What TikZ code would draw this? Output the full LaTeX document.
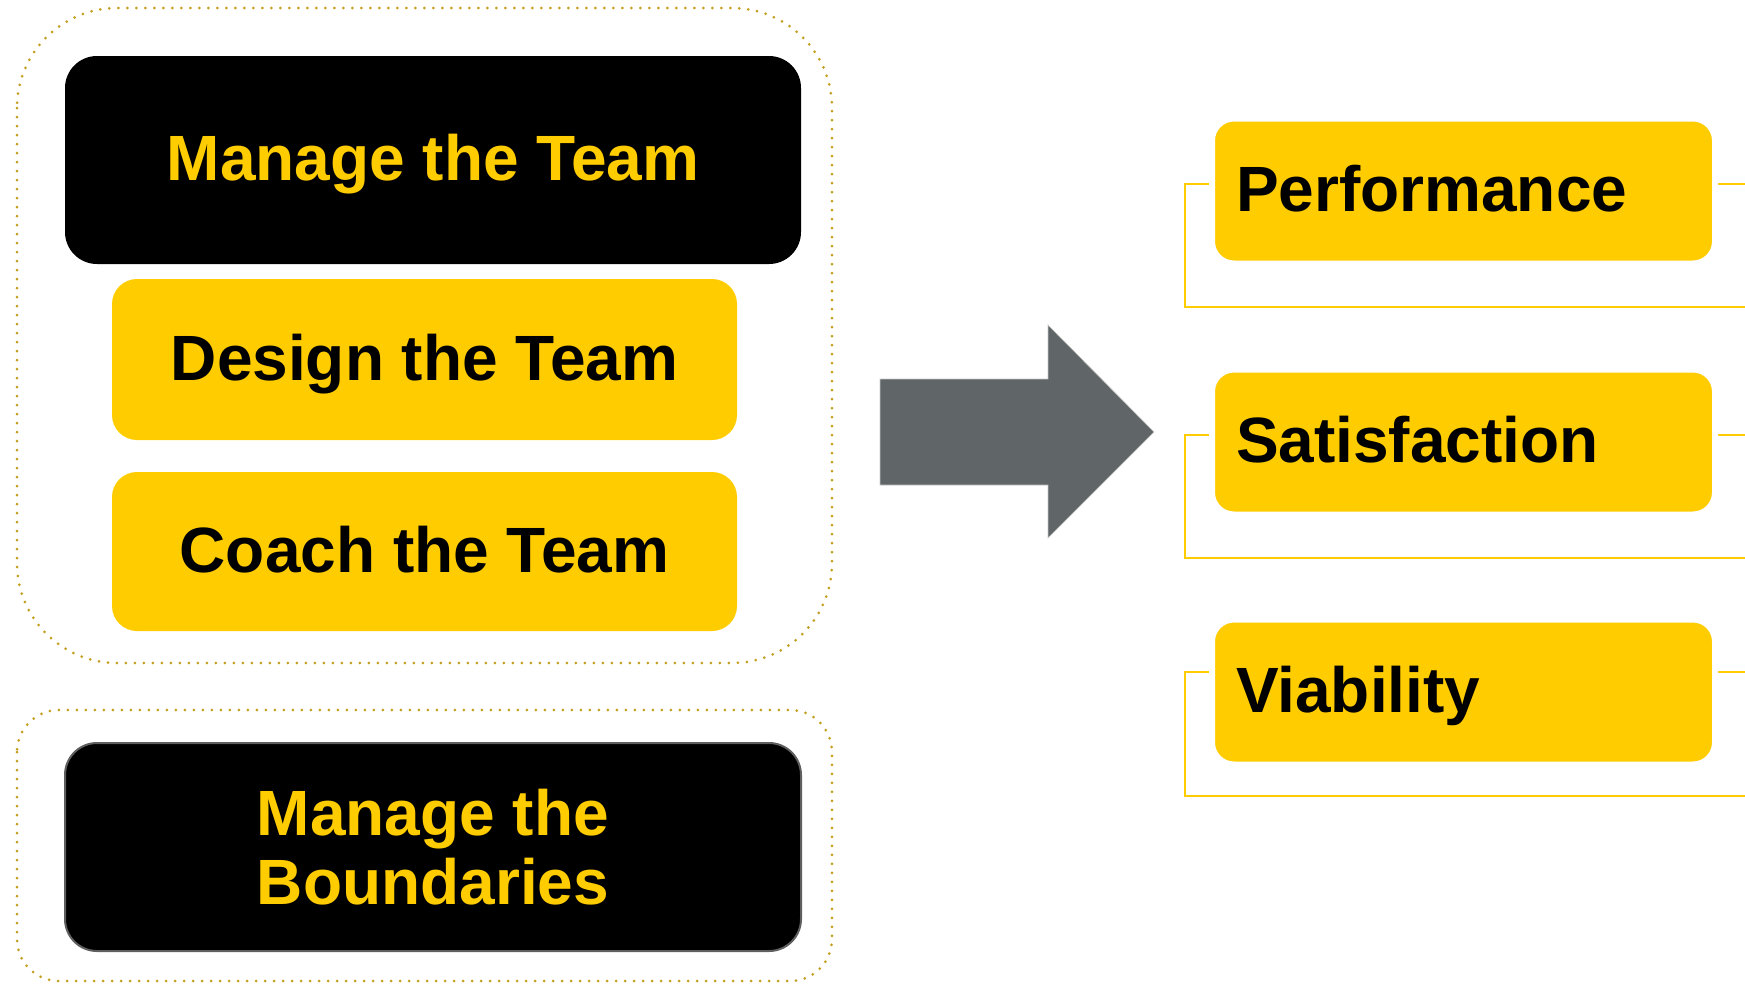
\documentclass[tikz,border=0pt]{standalone}
\usepackage{fontspec}
\setmainfont{Liberation Sans}
\definecolor{teamyellow}{RGB}{255,204,0}
\definecolor{dotgold}{RGB}{196,158,30}
\definecolor{arrowgrey}{RGB}{96,101,103}
\definecolor{edgegrey}{RGB}{95,95,95}
\begin{document}
\begin{tikzpicture}[x=1pt,y=-1pt,
  boxfont/.style={font=\bfseries\fontsize{64}{69}\selectfont},
  oneline/.style={text height=46pt, text depth=5pt},
  darkbox/.style={boxfont, fill=black, text=teamyellow, rounded corners=32pt,
    minimum width=736pt, minimum height=208pt, inner sep=0pt, align=center},
  lightbox/.style={boxfont, oneline, fill=teamyellow, text=black, rounded corners=25pt,
    minimum width=625pt, inner sep=0pt, align=center},
  outcome/.style={boxfont, oneline, fill=teamyellow, text=black, draw=white, line width=6pt,
    rounded corners=22pt, text width=455pt, inner xsep=24pt, inner ysep=0pt,
    minimum height=145pt, align=left},
  groupframe/.style={draw=dotgold, line width=3pt, line cap=round,
    dash pattern=on 0pt off 9pt},
  bracketline/.style={draw=teamyellow, line width=2.2pt}]

\useasboundingbox (0,0) rectangle (1745,983);
\clip (0,0) rectangle (1745,983);

% dotted group frames
\draw[groupframe, rounded corners=100pt] (17,8) rectangle (832,663);
\draw[groupframe, rounded corners=42pt] (17,710) rectangle (832,981);

% team tasks
\node[darkbox, oneline] (manage) at (433,160) {Manage the Team};
\node[lightbox, minimum height=161pt] (design) at (424.5,359.5) {Design the Team};
\node[lightbox, minimum height=159pt] (coach) at (424.5,551.5) {Coach the Team};
\node[darkbox, draw=edgegrey, line width=2pt] (bounds) at (433,847) {Manage the\\Boundaries};

% block arrow
\draw[fill=arrowgrey, draw={rgb,255:red,200;green,200;blue,200}, line width=0.6pt]
  (880,379) -- (1048,379) -- (1048,325) -- (1154,432) -- (1048,538)
  -- (1048,485) -- (880,485) -- cycle;

% outcome frames behind the outcome boxes
\draw[bracketline] (1760,184) -- (1185,184) -- (1185,307) -- (1760,307);
\draw[bracketline] (1760,435) -- (1185,435) -- (1185,558) -- (1760,558);
\draw[bracketline] (1760,672) -- (1185,672) -- (1185,796) -- (1760,796);

% outcomes
\node[outcome] (perf) at (1463.5,191) {Performance};
\node[outcome] (satis) at (1463.5,442) {Satisfaction};
\node[outcome] (viab) at (1463.5,692) {Viability};

\end{tikzpicture}
\end{document}
